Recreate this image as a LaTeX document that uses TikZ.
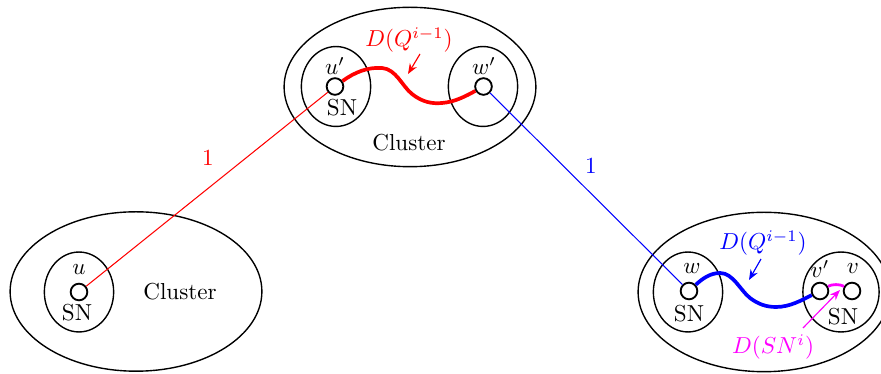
\documentclass[tikz,border=0pt]{standalone}
\usetikzlibrary{shapes.geometric,arrows.meta}
\definecolor{pmag}{RGB}{255,0,255}
\begin{document}
\begin{tikzpicture}[x=0.4329pt,y=-0.4329pt,
  cluster/.style={draw,ellipse,semithick,minimum width=109pt,minimum height=69pt,inner sep=0pt},
  snbox/.style={draw,ellipse,semithick,minimum width=30pt,minimum height=34.6pt,inner sep=0pt},
  vert/.style={draw,circle,thick,minimum size=7.2pt,inner sep=0pt,fill=white},
  thinline/.style={line width=0.45pt},
  pathline/.style={line width=1.6pt},
  lblarrow/.style={line width=0.5pt,-{Stealth[length=4.5pt,width=3.5pt]}}]
\useasboundingbox (0,0) rectangle (881,374);
% clusters
\node[cluster] (cT) at (410,87) {};
\node[cluster] (cL) at (136,291.5) {};
\node[cluster] (cR) at (764,292) {};
\node (clT) at (409,143) {Cluster};
\node (clL) at (180,292) {Cluster};
% super nodes
\node[snbox] (snU) at (79,292) {};
\node[snbox] (snUp) at (336,86.5) {};
\node[snbox] (snWp) at (483,86.5) {};
\node[snbox] (snW) at (688,292) {};
\node[snbox,minimum width=33pt] (snV) at (841,292) {};
% vertices
\node[vert] (u) at (79,292) {};
\node[vert] (up) at (335,86.5) {};
\node[vert] (wp) at (483.5,86.5) {};
\node[vert] (w) at (689,291) {};
\node[vert] (vp) at (820,291) {};
\node[vert] (v) at (852,291) {};
% connectors between clusters
\draw[red,thinline] (u) -- (up);
\node[red] (one1) at (208,158) {1};
\draw[blue,thinline] (wp) -- (w);
\node[blue] (one2) at (591,166) {1};
% vertex labels
\node (lu) at (79,270) {$u$};
\node (lsnu) at (77,313) {SN};
\node (lup) at (335,66) {$u'$};
\node (lsnup) at (342,108) {SN};
\node (lwp) at (484,66) {$w'$};
\node (lw) at (692,269) {$w$};
\node (lsnw) at (689,314) {SN};
\node (lvp) at (820,269) {$v'$};
\node (lv) at (853,269) {$v$};
\node (lsnv) at (843,317) {SN};
% red path
\draw[red,pathline] (up) .. controls (355,72) and (368,67) .. (382,68)
  .. controls (396,69) and (402,86) .. (412,94)
  .. controls (422,102) and (432,104) .. (442,103)
  .. controls (455,102) and (466,96) .. (wp);
% blue path
\draw[blue,pathline] (w) .. controls (702,279) and (710,273) .. (720,273)
  .. controls (733,273) and (740,290) .. (750,298)
  .. controls (758,304) and (766,307) .. (776,307)
  .. controls (790,307) and (802,300) .. (vp);
% magenta path
\draw[pmag,line width=1.2pt] (vp) .. controls (832,284) and (840,284) .. (v);
% labels with arrows
\node[red] (dq1) at (409,40) {$D(Q^{i-1})$};
\coordinate (dq1tip) at (408,74);
\draw[red,lblarrow] (420,54) -- (dq1tip);
\node[blue] (dq2) at (763,243) {$D(Q^{i-1})$};
\coordinate (dq2tip) at (749,280);
\draw[blue,lblarrow] (761,259) -- (dq2tip);
\node[pmag] (dsn) at (773,347) {$D(SN^i)$};
\coordinate (dsntip) at (840,290);
\draw[pmag,lblarrow] (803,328) -- (dsntip);
\end{tikzpicture}
\end{document}
